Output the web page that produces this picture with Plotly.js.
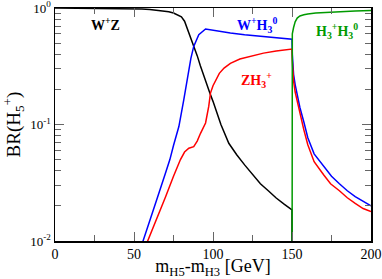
<!DOCTYPE html>
<html>
<head>
<meta charset="utf-8">
<script src="https://cdn.plot.ly/plotly-3.0.1.min.js"></script>
<style>html,body{margin:0;padding:0;background:#fff;}#chart{width:382px;height:279px;}</style>
</head>
<body>
<div id="chart"></div>
<script>
// W+Z
const wzX = [0, 20, 40, 50, 55, 60, 67, 72, 75, 78, 80, 82, 84, 86, 88, 90, 92, 95, 98, 100, 105, 110, 115, 120, 125, 130, 135, 140, 145, 150, 150];
const wzY = [0.998, 0.996, 0.99, 0.985, 0.98, 0.972, 0.95, 0.93, 0.905, 0.87, 0.84, 0.77, 0.65, 0.56, 0.47, 0.39, 0.32, 0.24, 0.186, 0.158, 0.10, 0.069, 0.055, 0.045, 0.037, 0.031, 0.027, 0.0234, 0.0207, 0.0185, 0.001];
// W+H3^0
const wh3X = [54, 55.8, 60, 65, 70, 72.7, 75, 78.4, 81.5, 83.7, 86, 87.8, 91, 95.3, 100, 105, 111, 120, 130, 140, 150,
              150.2, 150.5, 151, 152, 153, 155, 157.5, 160, 164, 170, 175, 180, 185, 190, 195, 200];
const wh3Y = [0.0085, 0.01, 0.0149, 0.024, 0.0385, 0.05, 0.066, 0.096, 0.163, 0.242, 0.37, 0.468, 0.59, 0.66, 0.645, 0.625, 0.61, 0.59, 0.57, 0.555, 0.54,
              0.40, 0.32, 0.27, 0.22, 0.19, 0.14, 0.105, 0.077, 0.056, 0.0435, 0.036, 0.031, 0.027, 0.024, 0.022, 0.02];
// Z H3+
const zh3X = [57, 58.7, 60, 65, 70, 75, 79.4, 82, 84.7, 87.8, 90, 92.1, 95.3, 97.3, 98.4, 100, 102, 104, 107, 111, 117, 125, 132, 140, 150,
              150.2, 150.5, 151, 152, 153, 155, 157.5, 160, 164, 170, 174.4, 180, 185, 190, 195, 200];
const zh3Y = [0.0088, 0.01, 0.011, 0.016, 0.024, 0.036, 0.05, 0.058, 0.0626, 0.0646, 0.072, 0.084, 0.103, 0.143, 0.186, 0.215, 0.245, 0.275, 0.305, 0.335, 0.365, 0.39, 0.41, 0.428, 0.444,
              0.35, 0.28, 0.235, 0.19, 0.165, 0.122, 0.09, 0.067, 0.048, 0.037, 0.031, 0.027, 0.0235, 0.021, 0.019, 0.0179];
// H3+H3^0
const hhX = [150, 150.2, 151, 152, 153.3, 155, 157.5, 160, 165, 170, 175, 180, 190, 200];
const hhY = [0.001, 0.6, 0.68, 0.76, 0.82, 0.855, 0.875, 0.89, 0.905, 0.915, 0.922, 0.93, 0.943, 0.954];

const xTickVals = [0, 50, 100, 150, 200];
const yTickVals = [0.01, 0.1, 1];
const yTickText = ['10<sup>-2</sup>', '10<sup>-1</sup>', '10<sup>0</sup>'];
const yMinor = [0.02,0.03,0.04,0.05,0.06,0.07,0.08,0.09,0.2,0.3,0.4,0.5,0.6,0.7,0.8,0.9];

const serif = 'Liberation Serif, Times New Roman, serif';
const lw = 1.5;
const data = [
  {x: wzX, y: wzY, mode: 'lines', line: {color: '#000000', width: lw}},
  {x: wh3X, y: wh3Y, mode: 'lines', line: {color: '#0000ff', width: lw}},
  {x: zh3X, y: zh3Y, mode: 'lines', line: {color: '#ff0000', width: lw}},
  {x: hhX, y: hhY, mode: 'lines', line: {color: '#009a00', width: lw}}
];
const layout = {
  width: 382, height: 279,
  margin: {l: 55, r: 11, t: 8, b: 38},
  paper_bgcolor: '#fff', plot_bgcolor: '#fff',
  showlegend: false,
  font: {family: serif, color: '#000'},
  xaxis: {
    range: [0, 200], tickmode: 'array', tickvals: xTickVals,
    ticks: 'inside', ticklen: 9, tickwidth: 1, tickcolor: '#666',
    minor: {ticks: 'inside', ticklen: 6, dtick: 25, tick0: 0, tickcolor: '#666', tickwidth: 1},
    showline: true, linecolor: '#000', linewidth: 1.5, mirror: 'ticks',
    showgrid: false, zeroline: false, ticklabeloverflow: 'allow',
    tickfont: {family: serif, size: 14},
    title: {text: 'm<sub>H5</sub>-m<sub>H3</sub> [GeV]', font: {family: serif, size: 18}, standoff: 4}
  },
  yaxis: {
    type: 'log', range: [-2, 0], tickmode: 'array', tickvals: yTickVals, ticktext: yTickText,
    ticks: 'inside', ticklen: 9, tickwidth: 1, tickcolor: '#666',
    minor: {ticks: 'inside', ticklen: 6, tickmode: 'array', tickvals: yMinor, tickcolor: '#666', tickwidth: 1},
    showline: true, linecolor: '#000', linewidth: 1.5, mirror: 'ticks',
    showgrid: false, zeroline: false, ticklabeloverflow: 'allow',
    tickfont: {family: serif, size: 13},
    title: {text: 'BR(H<sub>5</sub><sup>+</sup>)', font: {family: serif, size: 19}, standoff: 8}
  },
  annotations: [
    {xref: 'paper', yref: 'paper', x: 0.161, y: 0.931, xanchor: 'center', yanchor: 'middle', text: '<b>W<sup>+</sup>Z</b>', showarrow: false, font: {family: serif, size: 14, color: '#000'}},
    {xref: 'paper', yref: 'paper', x: 0.639, y: 0.927, xanchor: 'center', yanchor: 'middle', text: '<b>W<sup>+</sup>H<sub>3</sub><sup>0</sup></b>', showarrow: false, font: {family: serif, size: 14, color: '#0000ff'}},
    {xref: 'paper', yref: 'paper', x: 0.639, y: 0.691, xanchor: 'center', yanchor: 'middle', text: '<b>ZH<sub>3</sub><sup>+</sup></b>', showarrow: false, font: {family: serif, size: 14, color: '#ff0000'}},
    {xref: 'paper', yref: 'paper', x: 0.892, y: 0.901, xanchor: 'center', yanchor: 'middle', text: '<b>H<sub>3</sub><sup>+</sup>H<sub>3</sub><sup>0</sup></b>', showarrow: false, font: {family: serif, size: 14, color: '#009a00'}}
  ]
};
Plotly.newPlot('chart', data, layout, {staticPlot: true, displayModeBar: false});
</script>
</body>
</html>
